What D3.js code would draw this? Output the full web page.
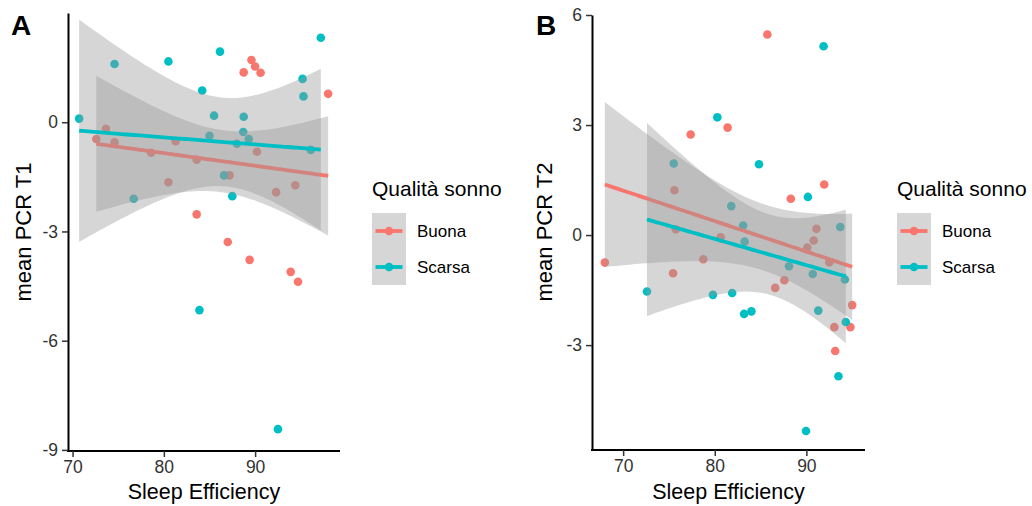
<!DOCTYPE html>
<html>
<head>
<meta charset="utf-8">
<script src="https://cdn.jsdelivr.net/npm/d3@7"></script>
<style>
  body { margin: 0; background: #fff; }
  text { font-family: "Liberation Sans", Arial, sans-serif; }
</style>
</head>
<body>
<svg id="chart" width="1032" height="506"></svg>
<script>
var groups = ['Buona', 'Scarsa'];
var colors = ['#F8766D', '#00BFC4'];
var xTicks = [70, 80, 90];

// Panel A - mean PCR T1
var aBuonaX = [89.6, 90.0, 88.75, 90.6, 98.0, 73.65, 72.6, 74.6, 81.3, 78.6, 83.6, 90.2, 87.2, 80.5, 94.4, 92.3, 83.6, 87.0, 89.4, 93.9, 94.7];
var aBuonaY = [1.71, 1.53, 1.37, 1.36, 0.78, -0.18, -0.46, -0.55, -0.52, -0.84, -1.03, -0.81, -1.46, -1.65, -1.73, -1.92, -2.53, -3.29, -3.78, -4.11, -4.38];
var aScarsaX = [70.72, 74.6, 80.5, 86.15, 97.2, 84.2, 95.2, 95.3, 85.5, 88.75, 85.0, 88.7, 89.3, 88.0, 96.1, 86.6, 87.5, 76.7, 83.9, 92.5];
var aScarsaY = [0.1, 1.6, 1.67, 1.94, 2.32, 0.87, 1.19, 0.71, 0.18, 0.15, -0.37, -0.27, -0.46, -0.59, -0.76, -1.46, -2.03, -2.1, -5.16, -8.43];
var aYTicks = [-9, -6, -3, 0];

// Panel B - mean PCR T2
var bBuonaX = [85.74, 77.37, 81.4, 91.95, 88.3, 75.6, 75.75, 91.1, 90.8, 90.1, 80.65, 78.75, 68.0, 75.45, 92.5, 87.6, 86.6, 95.0, 93.05, 94.8, 93.15];
var bBuonaY = [5.47, 2.74, 2.93, 1.38, 0.99, 1.22, 0.16, 0.17, -0.15, -0.34, -0.06, -0.66, -0.75, -1.04, -0.74, -1.23, -1.44, -1.91, -2.51, -2.51, -3.16];
var bScarsaX = [91.88, 80.28, 84.83, 90.17, 75.52, 81.8, 83.1, 93.7, 83.26, 88.1, 90.7, 94.2, 72.6, 79.8, 81.9, 83.2, 84.0, 91.3, 94.3, 93.5, 89.96];
var bScarsaY = [5.15, 3.21, 1.93, 1.04, 1.95, 0.79, 0.26, 0.22, -0.18, -0.85, -1.06, -1.21, -1.54, -1.63, -1.58, -2.15, -2.08, -2.06, -2.37, -3.85, -5.34];
var bYTicks = [-3, 0, 3, 6];

// t quantiles (0.975) by residual df, for the 95% band like geom_smooth(method = "lm")
var tq = {17: 2.110, 18: 2.101, 19: 2.093, 20: 2.086};

function lmBand(xs, ys) {
  var n = xs.length, mx = d3.mean(xs), my = d3.mean(ys);
  var sxx = d3.sum(xs, function (x) { return (x - mx) * (x - mx); });
  var sxy = d3.sum(xs, function (x, i) { return (x - mx) * (ys[i] - my); });
  var b = sxy / sxx, a = my - b * mx;
  var rss = d3.sum(xs, function (x, i) { var r = ys[i] - a - b * x; return r * r; });
  var s = Math.sqrt(rss / (n - 2)), t = tq[n - 2];
  var ex = d3.extent(xs);
  return d3.range(81).map(function (k) {
    var x = ex[0] + (ex[1] - ex[0]) * k / 80;
    var se = s * Math.sqrt(1 / n + (x - mx) * (x - mx) / sxx);
    var f = a + b * x;
    return {x: x, fit: f, lo: f - t * se, hi: f + t * se};
  });
}

var svg = d3.select('#chart');

function panel(opt) {
  var g = svg.append('g');
  var x = d3.scaleLinear().domain(opt.xDomain).range(opt.xRange);
  var y = d3.scaleLinear().domain(opt.yDomain).range(opt.yRange);

  var sets = [
    {xs: opt.buonaX, ys: opt.buonaY, color: colors[0]},
    {xs: opt.scarsaX, ys: opt.scarsaY, color: colors[1]}
  ];

  // points first, smooth on top of them
  sets.forEach(function (s) {
    g.append('g').selectAll('circle')
      .data(s.xs)
      .enter()
      .append('circle')
      .attr('cx', function (d) { return x(d); })
      .attr('cy', function (d, i) { return y(s.ys[i]); })
      .attr('r', 4.3)
      .attr('fill', s.color);
  });

  var area = d3.area()
    .x(function (d) { return x(d.x); })
    .y0(function (d) { return y(d.lo); })
    .y1(function (d) { return y(d.hi); });
  var line = d3.line()
    .x(function (d) { return x(d.x); })
    .y(function (d) { return y(d.fit); });

  sets.forEach(function (s) {
    var band = lmBand(s.xs, s.ys);
    g.append('path').attr('d', area(band))
      .attr('fill', '#999999').attr('fill-opacity', 0.4);
    g.append('path').attr('d', line(band))
      .attr('fill', 'none').attr('stroke', s.color).attr('stroke-width', 3.8);
  });

  // axes (plain hyphen for negatives, as in the original)
  var fmt = function (d) { return String(d); };
  var xAxis = d3.axisBottom(x).tickValues(xTicks).tickFormat(fmt).tickSize(6).tickPadding(4).tickSizeOuter(0);
  var yAxis = d3.axisLeft(y).tickValues(opt.yTicks).tickFormat(fmt).tickSize(6).tickPadding(4).tickSizeOuter(0);

  var gx = g.append('g')
    .attr('transform', 'translate(0,' + opt.yRange[0] + ')')
    .call(xAxis);
  var gy = g.append('g')
    .attr('transform', 'translate(' + opt.xRange[0] + ',0)')
    .call(yAxis);
  [gx, gy].forEach(function (ax) {
    ax.select('.domain').attr('stroke', '#000').attr('stroke-width', 2);
    ax.selectAll('.tick line').attr('stroke', '#333').attr('stroke-width', 1.5);
    ax.selectAll('.tick text').attr('fill', '#333').attr('font-size', '17.5px')
      .attr('font-family', '"Liberation Sans", Arial, sans-serif');
  });
  // the x axis line runs the whole panel width
  gx.select('.domain').attr('d', 'M' + (opt.xRange[0] - 1) + ',0H' + opt.xRange[1]);

  g.append('text')
    .attr('x', (opt.xRange[0] + opt.xRange[1]) / 2)
    .attr('y', 499)
    .attr('text-anchor', 'middle')
    .attr('font-size', '21.5px')
    .attr('fill', '#000')
    .text('Sleep Efficiency');

  g.append('text')
    .attr('transform', 'translate(' + opt.yTitleX + ',' + 232 + ') rotate(-90)')
    .attr('text-anchor', 'middle')
    .attr('font-size', '22px')
    .attr('fill', '#000')
    .text(opt.yTitle);

  g.append('text')
    .attr('x', opt.tagX)
    .attr('y', 35)
    .attr('font-size', '28px')
    .attr('font-weight', 'bold')
    .attr('fill', '#000')
    .text(opt.tag);

  // legend
  var lg = g.append('g').attr('transform', 'translate(' + opt.legendX + ',0)');
  lg.append('text')
    .attr('x', 0)
    .attr('y', 196)
    .attr('font-size', '21px')
    .attr('fill', '#000')
    .text('Qualità sonno');
  groups.forEach(function (name, i) {
    var cy = 231 + i * 36;
    lg.append('rect')
      .attr('x', 0).attr('y', cy - 18).attr('width', 34).attr('height', 36)
      .attr('fill', '#999999').attr('fill-opacity', 0.4);
    lg.append('line')
      .attr('x1', 3.5).attr('x2', 30.5).attr('y1', cy).attr('y2', cy)
      .attr('stroke', colors[i]).attr('stroke-width', 3.8);
    lg.append('circle')
      .attr('cx', 17).attr('cy', cy).attr('r', 4.3).attr('fill', colors[i]);
    lg.append('text')
      .attr('x', 45).attr('y', cy + 6)
      .attr('font-size', '17px')
      .attr('fill', '#000')
      .text(name);
  });
}

panel({
  tag: 'A', tagX: 11, yTitle: 'mean PCR T1', yTitleX: 31,
  xDomain: [69.5, 99.3], xRange: [68, 340],
  yDomain: [-9.03, 3.0], yRange: [451, 13],
  yTicks: aYTicks,
  buonaX: aBuonaX, buonaY: aBuonaY, scarsaX: aScarsaX, scarsaY: aScarsaY,
  legendX: 372
});

panel({
  tag: 'B', tagX: 536, yTitle: 'mean PCR T2', yTitleX: 552,
  xDomain: [66.6, 96.4], xRange: [592, 865],
  yDomain: [-5.86, 6.0], yRange: [450, 15],
  yTicks: bYTicks,
  buonaX: bBuonaX, buonaY: bBuonaY, scarsaX: bScarsaX, scarsaY: bScarsaY,
  legendX: 897
});
</script>
</body>
</html>
